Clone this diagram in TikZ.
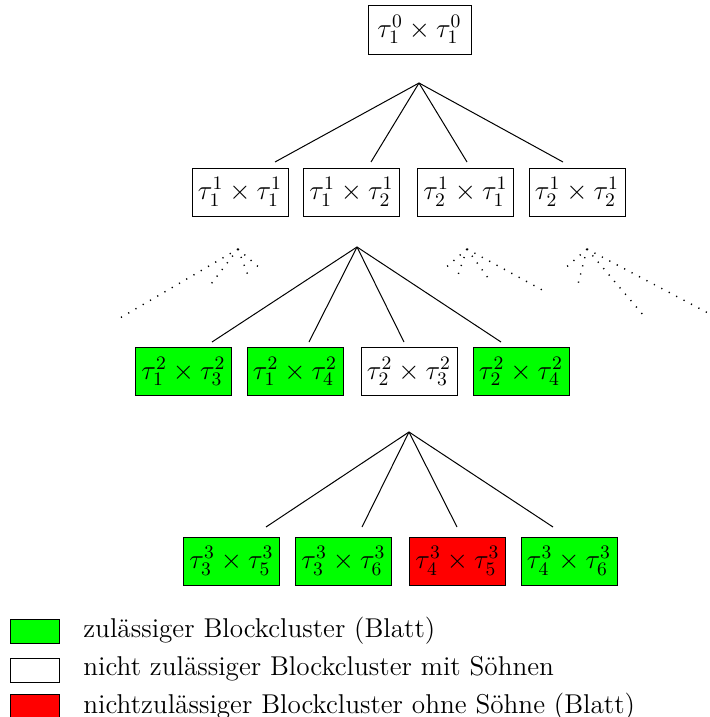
\RequirePackage{fix-cm}
\documentclass[tikz,border=0pt]{standalone}
\begin{document}
\begin{tikzpicture}[x=0.5pt,y=-0.5pt,
  every node/.style={font=\fontsize{13.6}{16}\selectfont},
  blk/.style={draw=black, line width=0.45pt, inner sep=0pt,
    minimum width=48pt, minimum height=24pt,
    font=\fontsize{13.6}{16}\selectfont},
  ok/.style={blk, fill=green},
  nok/.style={blk, fill=white},
  bad/.style={blk, fill=red},
  edge/.style={line width=0.5pt},
  fan/.style={line width=0.7pt, dash pattern=on 0.6pt off 3.6pt},
  key/.style={draw=black, line width=0.45pt, minimum width=24.5pt, minimum height=12pt, inner sep=0pt},
  keytext/.style={anchor=base west, inner sep=0pt}]
\useasboundingbox (0,0) rectangle (709,717);

% root
\node[nok, minimum width=51.5pt, minimum height=24.5pt] (r) at (419.5,29.5) {$\tau_1^0\times\tau_1^0$};

% first level
\node[nok] (b1) at (240,192) {$\tau_1^1\times\tau_1^1$};
\node[nok] (b2) at (351.5,192) {$\tau_1^1\times\tau_2^1$};
\node[nok] (b3) at (465.5,192) {$\tau_2^1\times\tau_1^1$};
\node[nok] (b4) at (577,192) {$\tau_2^1\times\tau_2^1$};

% second level
\node[ok]  (c1) at (183.5,371.5) {$\tau_1^2\times\tau_3^2$};
\node[ok]  (c2) at (295,371.5) {$\tau_1^2\times\tau_4^2$};
\node[nok] (c3) at (409,371.5) {$\tau_2^2\times\tau_3^2$};
\node[ok]  (c4) at (521,371.5) {$\tau_2^2\times\tau_4^2$};

% third level
\node[ok]  (d1) at (231.5,561) {$\tau_3^3\times\tau_5^3$};
\node[ok]  (d2) at (343.5,561) {$\tau_3^3\times\tau_6^3$};
\node[bad] (d3) at (457.5,561) {$\tau_4^3\times\tau_5^3$};
\node[ok]  (d4) at (569,561) {$\tau_4^3\times\tau_6^3$};

% branching points and edge ends
\coordinate (ra) at (419,83);
\coordinate (re1) at (275,162);
\coordinate (re2) at (371,162);
\coordinate (re3) at (467,162);
\coordinate (re4) at (563,162);
\foreach \e in {re1,re2,re3,re4} \draw[edge] (ra) -- (\e);

\coordinate (ba) at (357,247);
\coordinate (be1) at (212,342);
\coordinate (be2) at (309,342);
\coordinate (be3) at (404,342);
\coordinate (be4) at (501,342);
\foreach \e in {be1,be2,be3,be4} \draw[edge] (ba) -- (\e);

\coordinate (ca) at (409,432);
\coordinate (ce1) at (266,527);
\coordinate (ce2) at (362,527);
\coordinate (ce3) at (457,527);
\coordinate (ce4) at (553,527);
\foreach \e in {ce1,ce2,ce3,ce4} \draw[edge] (ca) -- (\e);

% unexpanded subtrees
\coordinate (f1) at (238,249);
\coordinate (f1a) at (120,318);
\coordinate (f1b) at (208,288);
\coordinate (f1c) at (249,278);
\coordinate (f1d) at (262,270);
\foreach \e in {f1a,f1b,f1c,f1d} \draw[fan] (f1) -- (\e);

\coordinate (f3) at (467,249);
\coordinate (f3a) at (443,270);
\coordinate (f3b) at (457,278);
\coordinate (f3c) at (491,282);
\coordinate (f3d) at (546,292);
\foreach \e in {f3a,f3b,f3c,f3d} \draw[fan] (f3) -- (\e);

\coordinate (f4) at (587,249);
\coordinate (f4a) at (563,270);
\coordinate (f4b) at (577,288);
\coordinate (f4c) at (644,316);
\coordinate (f4d) at (708,313);
\foreach \e in {f4a,f4b,f4c,f4d} \draw[fan] (f4) -- (\e);

% legend
\node[key, fill=green] (k1) at (34.5,631) {};
\node[key, fill=white] (k2) at (34.5,670) {};
\node[key, fill=red]   (k3) at (34.5,706.5) {};
\node[keytext] (t1) at (83,637) {zulässiger Blockcluster (Blatt)};
\node[keytext] (t2) at (83,675.5) {nicht zulässiger Blockcluster mit Söhnen};
\node[keytext] (t3) at (83,713) {nichtzulässiger Blockcluster ohne Söhne (Blatt)};
\end{tikzpicture}
\end{document}
